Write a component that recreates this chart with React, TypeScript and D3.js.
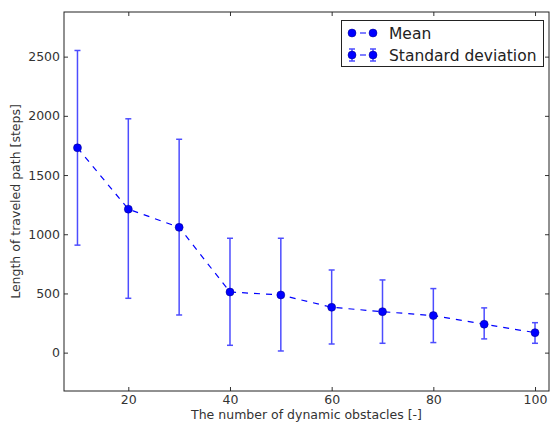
import React, { useEffect, useRef } from 'react';
import * as d3 from 'd3';

const obstacles = [10, 20, 30, 40, 50, 60, 70, 80, 90, 100];
const meanSteps = [1730, 1212, 1058, 512, 487, 383, 346, 313, 240, 169];
const upperSteps = [2552, 1975, 1802, 966, 966, 698, 614, 541, 378, 253];
const lowerSteps = [908, 459, 318, 62, 14, 73, 79, 85, 116, 79];
const xTicks = [20, 40, 60, 80, 100];
const yTicks = [0, 500, 1000, 1500, 2000, 2500];

const App = () => {
  const ref = useRef<SVGSVGElement>(null);

  useEffect(() => {
    const svg = d3.select(ref.current);
    svg.selectAll('*').remove();

    const width = 550;
    const height = 422;
    const margin = { top: 12, right: 1, bottom: 31, left: 64 };
    const font = 'DejaVu Sans, sans-serif';
    const blue = '#0000ff';
    const barColor = '#4d4dff';
    const fmt = d3.format('d');

    const x = d3.scaleLinear()
      .domain([7.35, 102.75])
      .range([margin.left, width - margin.right]);
    const y = d3.scaleLinear()
      .domain([-324, 2877])
      .range([height - margin.bottom, margin.top]);

    const data = obstacles.map((o, i) => ({
      o, mean: meanSteps[i], hi: upperSteps[i], lo: lowerSteps[i],
    }));

    // axes with inward ticks on all sides
    const tickLen = 4;
    const axes = svg.append('g');

    axes.append('g')
      .attr('transform', `translate(0,${height - margin.bottom})`)
      .call(d3.axisBottom(x).tickValues(xTicks).tickFormat(fmt).tickSizeInner(-tickLen).tickSizeOuter(0).tickPadding(4))
      .call(g => g.select('.domain').remove());
    axes.append('g')
      .attr('transform', `translate(0,${margin.top})`)
      .call(d3.axisTop(x).tickValues(xTicks).tickSizeInner(-tickLen).tickSizeOuter(0).tickFormat(() => ''))
      .call(g => g.select('.domain').remove());
    axes.append('g')
      .attr('transform', `translate(${margin.left},0)`)
      .call(d3.axisLeft(y).tickValues(yTicks).tickFormat(fmt).tickSizeInner(-tickLen).tickSizeOuter(0).tickPadding(4))
      .call(g => g.select('.domain').remove());
    axes.append('g')
      .attr('transform', `translate(${width - margin.right},0)`)
      .call(d3.axisRight(y).tickValues(yTicks).tickSizeInner(-tickLen).tickSizeOuter(0).tickFormat(() => ''))
      .call(g => g.select('.domain').remove());
    axes.selectAll('g').attr('font-family', font).attr('font-size', 12.5);
    axes.selectAll('.tick text').attr('fill', '#333');
    axes.selectAll('.tick line').attr('stroke', '#333');

    // error bars
    const bars = svg.append('g').attr('stroke', barColor).attr('stroke-width', 1.5);
    bars.append('g').selectAll('line')
      .data(data)
      .join('line')
      .attr('x1', d => x(d.o)).attr('x2', d => x(d.o))
      .attr('y1', d => y(d.hi)).attr('y2', d => y(d.lo));
    bars.append('g').selectAll('line')
      .data(data)
      .join('line')
      .attr('x1', d => x(d.o) - 3).attr('x2', d => x(d.o) + 3)
      .attr('y1', d => y(d.hi)).attr('y2', d => y(d.hi));
    bars.append('g').selectAll('line')
      .data(data)
      .join('line')
      .attr('x1', d => x(d.o) - 3).attr('x2', d => x(d.o) + 3)
      .attr('y1', d => y(d.lo)).attr('y2', d => y(d.lo));

    // mean line
    const line = d3.line<any>().x(d => x(d.o)).y(d => y(d.mean));
    svg.append('path')
      .datum(data)
      .attr('d', line)
      .attr('fill', 'none')
      .attr('stroke', blue)
      .attr('stroke-width', 1.2)
      .attr('stroke-dasharray', '6,6');
    svg.append('g').selectAll('circle')
      .data(data)
      .join('circle')
      .attr('cx', d => x(d.o))
      .attr('cy', d => y(d.mean))
      .attr('r', 4)
      .attr('fill', blue)
      .attr('stroke', '#000080')
      .attr('stroke-width', 0.5);

    // frame
    svg.append('rect')
      .attr('x', margin.left).attr('y', margin.top)
      .attr('width', width - margin.right - margin.left)
      .attr('height', height - margin.bottom - margin.top)
      .attr('fill', 'none').attr('stroke', '#222').attr('stroke-width', 1);

    // axis labels
    svg.append('text')
      .attr('x', (margin.left + width - margin.right) / 2)
      .attr('y', 419)
      .attr('text-anchor', 'middle')
      .attr('font-family', font).attr('font-size', 12.5).attr('fill', '#333')
      .text('The number of dynamic obstacles [-]');
    svg.append('text')
      .attr('transform', `translate(20,${(margin.top + height - margin.bottom) / 2}) rotate(-90)`)
      .attr('text-anchor', 'middle')
      .attr('font-family', font).attr('font-size', 12.5).attr('fill', '#333')
      .text('Length of traveled path [steps]');

    // legend
    const lg = svg.append('g').attr('font-family', font).attr('font-size', 15.5);
    lg.append('rect')
      .attr('x', 341.5).attr('y', 20.5).attr('width', 202).attr('height', 46)
      .attr('fill', '#fff').attr('stroke', '#222');
    const lx1 = 352, lx2 = 373;
    const rows = [33, 55];
    rows.forEach(ry => {
      lg.append('line')
        .attr('x1', lx1).attr('x2', lx2).attr('y1', ry).attr('y2', ry)
        .attr('stroke', blue).attr('stroke-width', 1.2).attr('stroke-dasharray', '0,8,6,20');
    });
    [lx1, lx2].forEach(cx => {
      lg.append('line')
        .attr('x1', cx).attr('x2', cx).attr('y1', rows[1] - 6).attr('y2', rows[1] + 6)
        .attr('stroke', barColor).attr('stroke-width', 1.5);
      lg.append('line')
        .attr('x1', cx - 3).attr('x2', cx + 3).attr('y1', rows[1] - 6).attr('y2', rows[1] - 6)
        .attr('stroke', barColor).attr('stroke-width', 1.5);
      lg.append('line')
        .attr('x1', cx - 3).attr('x2', cx + 3).attr('y1', rows[1] + 6).attr('y2', rows[1] + 6)
        .attr('stroke', barColor).attr('stroke-width', 1.5);
      rows.forEach(ry => {
        lg.append('circle').attr('cx', cx).attr('cy', ry).attr('r', 4)
          .attr('fill', blue).attr('stroke', '#000080').attr('stroke-width', 0.5);
      });
    });
    lg.append('text').attr('x', 389).attr('y', rows[0] + 5.5).attr('fill', '#222').text('Mean');
    lg.append('text').attr('x', 389).attr('y', rows[1] + 5.5).attr('fill', '#222').text('Standard deviation');
  }, []);

  return (
    <svg
      ref={ref}
      width={550}
      height={422}
      style={{ position: 'absolute', left: 0, top: 0, background: '#fff' }}
    />
  );
};

export default App;
